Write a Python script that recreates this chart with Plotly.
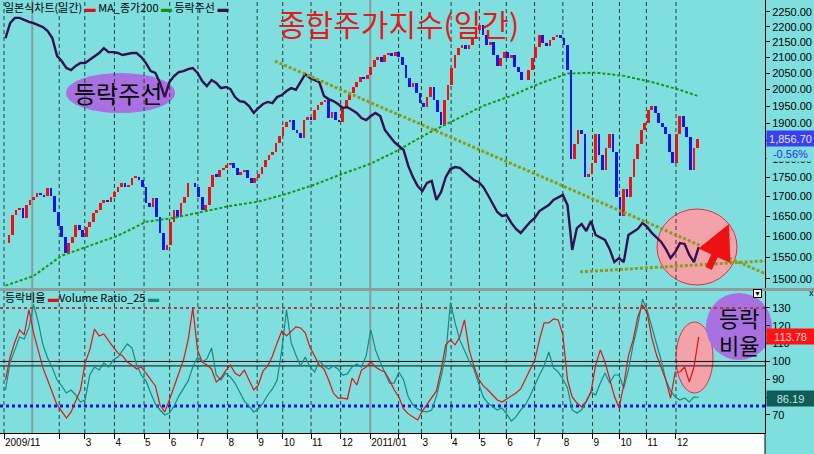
import math
import plotly.graph_objects as go

# ---------------------------------------------------------------- data
# x positions are KRX trading-session indices counted from 2009-12-01
MONTH_START_SESSION = [0, 41, 60, 82, 104, 123, 144, 166, 188, 207, 228, 250,
                       272, 293, 310, 332, 353, 373, 394, 415, 437, 457, 477, 499]
MONTH_LABELS = ["2009/11", "", "3", "4", "5", "6", "7", "8", "9", "10", "11", "12",
                "2011/01", "", "3", "4", "5", "6", "7", "8", "9", "10", "11", "12"]
YEAR_START_SESSION = [21, 272]

PRICE_TICKS = [1500, 1550, 1600, 1650, 1700, 1750, 1800, 1850, 1900, 1950,
               2000, 2050, 2100, 2150, 2200, 2250]
RATIO_TICKS = [70, 80, 90, 100, 110, 120, 130]

# KOSPI closes, sampled every ~2.6 sessions (8 samples per month row)
CLOSE_FIRST_SESSION = 1.1
CLOSE_SAMPLE_STEP = 2.608
KOSPI_CLOSE = [
    1584, 1604, 1653, 1666, 1671, 1646, 1679, 1691,
    1699, 1710, 1704, 1701, 1722, 1701, 1661, 1626,
    1599, 1560, 1584, 1599, 1628, 1616, 1599, 1623,
    1636, 1658, 1666, 1684, 1691, 1686, 1699, 1712,
    1725, 1736, 1725, 1730, 1749, 1752, 1744, 1725,
    1684, 1674, 1696, 1649, 1608, 1567, 1579, 1636,
    1666, 1649, 1684, 1699, 1736, 1736, 1725, 1699,
    1666, 1679, 1725, 1757, 1752, 1770, 1775, 1783,
    1789, 1775, 1757, 1765, 1770, 1749, 1736, 1749,
    1760, 1778, 1797, 1811, 1819, 1845, 1864, 1889,
    1904, 1910, 1881, 1873, 1859, 1910, 1918, 1910,
    1939, 1954, 1963, 1969, 1916, 1933, 1910, 1904,
    1948, 1969, 1991, 2009, 2024, 2040, 2033, 2046,
    2070, 2092, 2102, 2086, 2108, 2111, 2105, 2118,
    2102, 2076, 2036, 2009, 2021, 1991, 1960, 1948,
    1978, 2009, 1969, 1933, 1896, 1969, 2015, 2067,
    2108, 2130, 2140, 2127, 2140, 2162, 2190, 2207,
    2173, 2140, 2150, 2108, 2073, 2099, 2118, 2099,
    2108, 2070, 2055, 2030, 2030, 2061, 2099, 2134,
    2173, 2146, 2137, 2157, 2167, 2173, 2163, 2140,
    2060, 1800, 1840, 1880, 1870, 1750, 1760, 1790,
    1870, 1810, 1770, 1830, 1870, 1820, 1700, 1650,
    1720, 1700, 1750, 1800, 1840, 1880, 1900, 1940,
    1950, 1930, 1900, 1890, 1870, 1820, 1790, 1870,
    1920, 1890, 1860, 1770, 1830, 1856.70,
]

# indicator series, sampled every ~3.5 sessions (6 samples per month row)
IND_FIRST_SESSION = 1.1
IND_SAMPLE_STEP = 3.478
ADL = [  # 등락주선 (scaled 0-100)
    86.8, 92.0, 93.8, 93.8, 93.1, 92.4,
    92.0, 91.3, 90.6, 89.2, 86.8, 80.6,
    78.8, 76.4, 75.7, 77.1, 78.1, 78.1,
    79.2, 80.2, 81.6, 83.3, 81.9, 81.9,
    81.6, 80.9, 81.3, 81.6, 81.6, 80.2,
    78.1, 75.3, 74.7, 71.2, 66.3, 71.5,
    73.6, 75.0, 75.3, 76.0, 76.4, 74.7,
    71.9, 70.1, 72.2, 71.2, 69.4, 69.8,
    69.1, 66.3, 64.9, 64.6, 63.2, 60.8,
    62.5, 63.9, 64.6, 64.2, 66.3, 67.0,
    68.4, 69.4, 68.8, 71.5, 74.3, 72.9,
    72.2, 71.5, 66.7, 65.6, 64.9, 63.9,
    62.5, 62.8, 61.8, 60.8, 59.0, 58.3,
    59.7, 60.8, 59.7, 54.9, 52.8, 50.7,
    49.3, 47.9, 42.4, 38.5, 35.4, 33.7,
    36.5, 37.2, 30.6, 33.3, 38.5, 41.3,
    42.0, 41.7, 40.3, 38.9, 37.5, 36.8,
    35.1, 32.3, 29.2, 26.4, 25.0, 25.3,
    22.6, 20.5, 19.1, 21.2, 22.9, 24.3,
    26.7, 27.8, 28.8, 30.6, 31.6, 32.3,
    28.8, 13.2, 20.8, 22.2, 19.8, 23.3,
    18.4, 17.4, 16.7, 13.5, 9.0, 10.4,
    9.0, 18.4, 19.4, 20.5, 22.6, 21.2,
    19.1, 17.7, 16.0, 13.5, 10.4, 12.5,
    15.6, 15.3, 11.5, 9.0, 14.2,
]
ADR = [  # 등락비율
    89.6, 102.5, 110.9, 117.7, 114.9, 129.0,
    116.0, 106.5, 96.4, 89.6, 82.9, 75.6,
    72.2, 68.3, 71.7, 78.4, 84.0, 99.2,
    106.5, 118.2, 114.3, 115.4, 111.5, 108.1,
    104.8, 103.1, 99.7, 98.0, 95.8, 96.9,
    93.5, 89.6, 86.3, 75.6, 71.7, 78.4,
    86.3, 94.1, 100.8, 112.1, 130.0, 106.5,
    99.7, 98.0, 95.8, 88.5, 90.7, 94.7,
    98.0, 93.5, 91.9, 95.2, 89.6, 84.0,
    86.8, 94.7, 97.5, 103.1, 110.4, 117.1,
    114.3, 117.1, 119.4, 118.8, 116.0, 108.1,
    103.1, 98.0, 95.8, 89.6, 82.3, 79.5,
    79.5, 79.0, 90.7, 86.8, 95.2, 96.9,
    99.7, 96.9, 95.2, 94.1, 89.6, 84.0,
    80.1, 73.4, 70.6, 68.9, 67.2, 72.2,
    76.2, 79.5, 83.5, 95.2, 109.3, 112.1,
    109.3, 113.7, 123.3, 106.5, 97.5, 90.2,
    86.3, 84.0, 81.2, 78.4, 77.3, 79.0,
    80.6, 82.3, 84.6, 90.2, 95.2, 100.8,
    112.1, 121.6, 121.6, 123.8, 123.3, 114.9,
    89.6, 80.1, 76.7, 74.5, 77.8, 82.9,
    98.0, 106.5, 99.7, 90.7, 80.6, 73.9,
    86.8, 103.1, 112.1, 125.0, 131.7, 127.2,
    113.2, 103.6, 96.9, 89.6, 79.5, 94.1,
    94.1, 96.9, 88.5, 96.9, 113.78,
]
VOL_RATIO = [  # Volume Ratio_25
    84.0, 99.7, 106.5, 113.7, 112.6, 118.8,
    132.0, 122.1, 109.3, 102.0, 96.4, 89.6,
    86.3, 82.3, 84.0, 81.2, 77.3, 78.4,
    92.4, 96.9, 95.2, 99.2, 96.9, 100.8,
    102.5, 105.9, 109.8, 107.6, 98.0, 92.4,
    89.1, 82.3, 76.2, 72.8, 70.0, 71.1,
    75.0, 80.6, 84.6, 89.1, 96.9, 102.5,
    99.7, 101.4, 107.6, 92.4, 89.6, 93.5,
    91.3, 87.9, 82.9, 77.8, 75.0, 71.7,
    73.4, 76.7, 81.2, 84.6, 89.6, 106.5,
    128.9, 110.4, 103.6, 97.5, 102.5, 96.9,
    94.1, 100.3, 97.5, 95.8, 97.5, 95.8,
    92.4, 93.0, 96.9, 98.6, 96.9, 103.1,
    117.7, 106.5, 99.7, 94.1, 87.9, 87.9,
    94.1, 89.6, 80.1, 75.6, 73.4, 72.2,
    71.7, 72.8, 80.6, 91.3, 103.6, 133.0,
    121.6, 112.1, 106.5, 100.3, 95.8, 88.5,
    80.1, 76.7, 74.5, 72.8, 73.9, 70.6,
    66.6, 68.9, 72.8, 75.6, 80.6, 86.8,
    92.4, 97.5, 105.3, 96.4, 94.1, 90.2,
    85.1, 72.8, 71.1, 72.8, 77.3, 82.9,
    81.2, 87.9, 93.5, 87.9, 92.4, 92.4,
    85.1, 95.2, 109.3, 120.5, 135.0, 128.9,
    118.8, 109.8, 100.8, 89.6, 83.5, 80.1,
    78.4, 79.5, 77.3, 80.1, 79.8,
]

MA_SAMPLE_STEP = 20.866
MA_SAMPLE_INDEX = [0, 1, 2, 3, 4, 5, 6, 7, 8, 9, 10, 11, 12, 13, 14, 15, 16,
                   17, 18, 19, 20, 21, 22, 23, 24, 24.625]
MA200 = [1485, 1507, 1554, 1578, 1602, 1636, 1646, 1661, 1676, 1687, 1707, 1731,
         1760, 1787, 1825, 1870, 1910, 1951, 1981, 2018, 2049, 2052, 2042, 2023,
         1999, 1981]

TREND_DOWN_X = [201.2, 565.1]
TREND_DOWN_Y = [78.8, 5.0]
TREND_SUPPORT_X = [427.7, 565.1]
TREND_SUPPORT_Y = [5.6, 9.4]

LAST_CHANGE_TEXT = "-0.56%"
VOL_RATIO_LAST_TEXT = "86.19"

# ---------------------------------------------------------------- style
BG = "#7FDFDF"
W, H = 814, 454
PW, PH = 765, 433          # plot area (margins: r=49, b=21)
LATIN = "Liberation Sans, Arial, sans-serif"
KR = "Noto Sans CJK KR, Liberation Sans, sans-serif"
RED = "#ee1111"
BLUE = "#1414ee"
PURPLE = "#a870e0"
PINK = "#f4a2aa"


def px(x):
    return x / PW


def py(y):
    return (PH - y) / PH


close_x = [CLOSE_FIRST_SESSION + i * CLOSE_SAMPLE_STEP for i in range(len(KOSPI_CLOSE))]
opens = [KOSPI_CLOSE[0]] + KOSPI_CLOSE[:-1]
ind_x = [IND_FIRST_SESSION + i * IND_SAMPLE_STEP for i in range(len(ADL))]
ma_x = [IND_FIRST_SESSION + k * MA_SAMPLE_STEP for k in MA_SAMPLE_INDEX]

up_x, up_o, up_d, dn_x, dn_o, dn_d = [], [], [], [], [], []
for x, o, c in zip(close_x, opens, KOSPI_CLOSE):
    if c >= o:
        up_x.append(x); up_o.append(o); up_d.append(c - o)
    else:
        dn_x.append(x); dn_o.append(o); dn_d.append(c - o)

fig = go.Figure()
fig.add_trace(go.Bar(x=up_x, y=up_d, base=up_o, width=2.0, marker=dict(color=RED, line=dict(width=0)),
                     yaxis="y", showlegend=False))
fig.add_trace(go.Bar(x=dn_x, y=dn_d, base=dn_o, width=2.0, marker=dict(color=BLUE, line=dict(width=0)),
                     yaxis="y", showlegend=False))
fig.add_trace(go.Scatter(x=ma_x, y=MA200, mode="lines", yaxis="y",
                         line=dict(color="#139a13", width=2, dash="3px,2px"), showlegend=False))
fig.add_trace(go.Scatter(x=ind_x, y=ADL, mode="lines", yaxis="y3",
                         line=dict(color="#34104f", width=2.4), showlegend=False))
fig.add_trace(go.Scatter(x=TREND_DOWN_X, y=TREND_DOWN_Y, mode="lines", yaxis="y3",
                         line=dict(color="#8e9a1c", width=3, dash="3px,2px"), showlegend=False))
fig.add_trace(go.Scatter(x=TREND_SUPPORT_X, y=TREND_SUPPORT_Y, mode="lines", yaxis="y3",
                         line=dict(color="#8e9a1c", width=3, dash="3px,2px"), showlegend=False))
fig.add_trace(go.Scatter(x=ind_x, y=VOL_RATIO, mode="lines", yaxis="y2",
                         line=dict(color="#178a80", width=1.2), showlegend=False))
fig.add_trace(go.Scatter(x=ind_x, y=ADR, mode="lines", yaxis="y2",
                         line=dict(color="#e01414", width=1.2), showlegend=False))

shapes = []
# bottom white date strip
shapes.append(dict(type="rect", xref="paper", yref="paper", x0=0, x1=1, y0=py(H), y1=0,
                   fillcolor="white", line=dict(width=0), layer="below"))
# decorative ellipses (under the grid)
shapes.append(dict(type="circle", xref="paper", yref="paper", x0=px(66), x1=px(175), y0=py(113), y1=py(73),
                   fillcolor=PURPLE, line=dict(width=0), layer="below"))
shapes.append(dict(type="circle", xref="paper", yref="paper", x0=px(657), x1=px(737), y0=py(285), y1=py(209),
                   fillcolor=PINK, line=dict(color="#e03040", width=1), layer="below"))
shapes.append(dict(type="circle", xref="paper", yref="paper", x0=px(676), x1=px(713), y0=py(393), y1=py(322),
                   fillcolor=PINK, line=dict(color="#e03040", width=1), layer="below"))
shapes.append(dict(type="circle", xref="paper", yref="paper", x0=px(706), x1=px(772), y0=py(360), y1=py(293),
                   fillcolor=PURPLE, line=dict(width=0), layer="below"))
# month grid (dashed) and year separators (solid)
for s in MONTH_START_SESSION:
    if s in YEAR_START_SESSION:
        continue
    shapes.append(dict(type="line", xref="x", yref="paper", x0=s, x1=s, y0=0, y1=1,
                       line=dict(color="#2e3a3a", width=1, dash="4px,3px"), layer="below"))
for s in YEAR_START_SESSION:
    shapes.append(dict(type="line", xref="x", yref="paper", x0=s, x1=s, y0=0, y1=1,
                       line=dict(color="#8a9c9c", width=2), layer="below"))
# lower panel reference lines
shapes.append(dict(type="line", xref="paper", yref="y2", x0=0, x1=1, y0=130, y1=130,
                   line=dict(color="#b03c3c", width=2, dash="3px,3px"), layer="below"))
shapes.append(dict(type="line", xref="paper", yref="y2", x0=0, x1=1, y0=75, y1=75,
                   line=dict(color="#1414dd", width=3, dash="3px,3px"), layer="below"))
for lvl in (100, 97.5):
    shapes.append(dict(type="line", xref="paper", yref="y2", x0=0, x1=1, y0=lvl, y1=lvl,
                       line=dict(color="#101010", width=1), layer="below"))
# panel separator + strip border
shapes.append(dict(type="rect", xref="paper", yref="paper", x0=0, x1=W / PW, y0=py(291), y1=py(288),
                   fillcolor="#8e9c9c", line=dict(width=0), layer="above"))
shapes.append(dict(type="line", xref="paper", yref="paper", x0=1, x1=1, y0=py(H), y1=0,
                   line=dict(color="black", width=1), layer="above"))

ann = []
legend_main = ('일본식차트(일간) <span style="color:#e01010">▬</span> MA_종가200 '
               '<span style="color:#12941a">▬</span> 등락주선 <span style="color:#34104f">▬</span>')
ann.append(dict(xref="paper", yref="paper", x=px(2), y=py(7), xanchor="left", yanchor="middle",
                text=legend_main, showarrow=False, font=dict(family=KR, size=11, color="black")))
legend_low = ('등락비율 <span style="color:#e01010">▬</span>Volume Ratio_25 '
              '<span style="color:#178a80">▬</span>')
ann.append(dict(xref="paper", yref="paper", x=px(3), y=py(297), xanchor="left", yanchor="middle",
                text=legend_low, showarrow=False, font=dict(family=KR, size=11, color="black")))
ann.append(dict(xref="paper", yref="paper", x=px(398), y=py(23), xanchor="center", yanchor="middle",
                text="종합주가지수(일간)", showarrow=False, font=dict(family=KR, size=30, color="#e31b1b")))
ann.append(dict(xref="paper", yref="paper", x=px(118), y=py(93), xanchor="center", yanchor="middle",
                text="등락주선", showarrow=False, font=dict(family=KR, size=24, color="black")))
ann.append(dict(xref="paper", yref="paper", x=px(739), y=py(317), xanchor="center", yanchor="middle",
                text="등락", showarrow=False, font=dict(family=KR, size=22, color="black")))
ann.append(dict(xref="paper", yref="paper", x=px(739), y=py(344), xanchor="center", yanchor="middle",
                text="비율", showarrow=False, font=dict(family=KR, size=22, color="black")))
# red arrow
ann.append(dict(xref="paper", yref="paper", x=px(729), y=py(224), ax=-21, ay=46, text="",
                showarrow=True, arrowhead=2, arrowsize=1, arrowwidth=7, arrowcolor=RED, standoff=0))
# right-side value boxes
ann.append(dict(xref="paper", yref="y", x=px(766), y=math.log10(KOSPI_CLOSE[-1]), xanchor="left",
                yanchor="middle", text=f"{KOSPI_CLOSE[-1]:,.2f}", showarrow=False, bgcolor="#3a3ff0",
                width=45, height=14, font=dict(family=LATIN, size=11, color="#e4e4ff")))
ann.append(dict(xref="paper", yref="paper", x=px(766), y=py(154), xanchor="left", yanchor="middle",
                text=LAST_CHANGE_TEXT, showarrow=False, bgcolor=BG, width=45, height=12,
                font=dict(family=LATIN, size=11, color="#2030f0")))
ann.append(dict(xref="paper", yref="y2", x=px(766), y=ADR[-1], xanchor="left", yanchor="middle",
                text=f"{ADR[-1]:.2f}", showarrow=False, bgcolor="#ff1212", width=45, height=13,
                font=dict(family=LATIN, size=11, color="#ffd6d6")))
ann.append(dict(xref="paper", yref="paper", x=px(766), y=py(398), xanchor="left", yanchor="middle",
                text=VOL_RATIO_LAST_TEXT, showarrow=False, bgcolor="#0f5c58", width=45, height=13,
                font=dict(family=LATIN, size=11, color="#c8e8e6")))
# small panel icons
ann.append(dict(xref="paper", yref="paper", x=px(757), y=py(293), xanchor="center", yanchor="middle",
                text="▼", showarrow=False, bgcolor="white", bordercolor="black", borderwidth=1,
                borderpad=0, font=dict(family=LATIN, size=7, color="black")))
ann.append(dict(xref="paper", yref="paper", x=px(811), y=py(293), xanchor="center", yanchor="middle",
                text="x", showarrow=False, font=dict(family=LATIN, size=9, color="black")))

fig.update_layout(
    template="none",
    width=W, height=H,
    margin=dict(l=0, r=W - PW, t=0, b=H - PH),
    paper_bgcolor=BG, plot_bgcolor="rgba(0,0,0,0)",
    barmode="overlay", bargap=0,
    showlegend=False,
    xaxis=dict(domain=[0, 1], anchor="y2", range=[-2.97, 565.1],
               tickmode="array", tickvals=MONTH_START_SESSION, ticktext=MONTH_LABELS,
               ticks="outside", ticklen=5, tickcolor="black", tickwidth=1, tickangle=0,
               ticklabelposition="outside right",
               showline=True, linecolor="black", linewidth=1, showgrid=False, zeroline=False,
               tickfont=dict(family=LATIN, size=10, color="black"), automargin=False),
    yaxis=dict(domain=[py(288), 1], anchor="x", side="right", type="log",
               range=[3.17015, 3.36009], tickmode="array", tickvals=PRICE_TICKS,
               ticktext=[f"{v:.2f}" for v in PRICE_TICKS],
               ticks="outside", ticklen=4, tickcolor="black",
               showline=True, linecolor="black", linewidth=1, showgrid=False, zeroline=False,
               tickfont=dict(family=LATIN, size=11, color="black"), automargin=False),
    yaxis3=dict(overlaying="y", anchor="x", side="right", range=[0, 100], visible=False,
                showgrid=False, zeroline=False),
    yaxis2=dict(domain=[0, py(291)], anchor="x", side="right", range=[59.9, 139.5],
                tickmode="array", tickvals=RATIO_TICKS, ticks="outside", ticklen=4, tickcolor="black",
                showline=True, linecolor="black", linewidth=1, showgrid=False, zeroline=False,
                tickfont=dict(family=LATIN, size=11, color="black"), automargin=False),
    shapes=shapes,
    annotations=ann,
)

fig.write_html("out.html", config={"displayModeBar": False},
               post_script="document.body.style.margin='0px';document.body.style.overflow='hidden';")
